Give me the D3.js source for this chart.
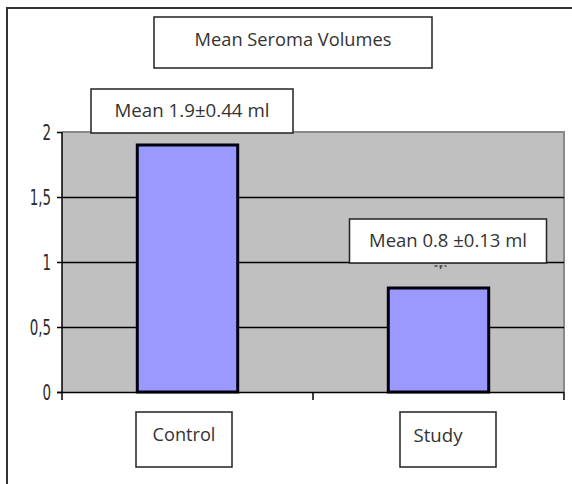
<!DOCTYPE html>
<html>
<head>
<meta charset="utf-8">
<script src="https://cdn.jsdelivr.net/npm/d3@7/dist/d3.min.js"></script>
<style>
  html, body { margin: 0; padding: 0; background: #fff; }
  svg { display: block; }
</style>
</head>
<body>
<svg id="chart" width="572" height="484"></svg>
<script>
// ---- data ----
const categories = ["Control", "Study"];
const means = [1.9, 0.8];
const annotations = ["Mean 1.9\u00b10.44 ml", "Mean 0.8 \u00b10.13 ml"];
const title = "Mean Seroma Volumes";
const yTicks = [0, 0.5, 1, 1.5, 2];
const yTickLabels = ["0", "0,5", "1", "1,5", "2"];
const errorCapTop = [null, 0.97];   // Control's cap is hidden behind its label box

// ---- layout ----
const W = 572, H = 484;
const plot = { left: 62, right: 564, top: 132, bottom: 392 };
const boxFont = "'Open Sans', 'Noto Sans', sans-serif";

const svg = d3.select("#chart");

// outer frame
svg.append("rect")
  .attr("x", 7).attr("y", 8).attr("width", 600).attr("height", 520)
  .attr("fill", "#fff").attr("stroke", "#333").attr("stroke-width", 2);

const x = d3.scaleBand().domain(categories)
  .range([plot.left, plot.right]).paddingInner(0.6).paddingOuter(0.3);
const y = d3.scaleLinear().domain([0, 2]).range([plot.bottom, plot.top]);
const xSlots = d3.scaleBand().domain(categories).range([plot.left, plot.right]);

// plot background
svg.append("rect")
  .attr("x", plot.left).attr("y", plot.top)
  .attr("width", plot.right - plot.left).attr("height", plot.bottom - plot.top)
  .attr("fill", "#c0c0c0");
svg.append("path")
  .attr("d", `M${plot.left},${plot.top}H${plot.right}V${plot.bottom}`)
  .attr("fill", "none").attr("stroke", "#8a8a8a").attr("stroke-width", 2);

// gridlines
svg.append("g").selectAll("line")
  .data(yTicks.filter(t => t > 0 && t < 2))
  .join("line")
  .attr("x1", plot.left).attr("x2", plot.right)
  .attr("y1", d => Math.round(y(d)) + 0.5).attr("y2", d => Math.round(y(d)) + 0.5)
  .attr("stroke", "#000").attr("stroke-width", 1.5);

// bars
svg.append("g").selectAll("rect")
  .data(categories)
  .join("rect")
  .attr("x", d => x(d))
  .attr("y", (d, i) => y(means[i]))
  .attr("width", x.bandwidth())
  .attr("height", (d, i) => y(0) - y(means[i]))
  .attr("fill", "#9999ff")
  .attr("stroke", "#000010").attr("stroke-width", 3);

// y axis
const yAxis = d3.axisLeft(y).tickValues(yTicks)
  .tickFormat((d, i) => yTickLabels[i]).tickSize(5).tickPadding(6);
const gy = svg.append("g").attr("transform", `translate(${plot.left},0)`).call(yAxis);
gy.select(".domain").attr("d", `M0,${plot.top}V${plot.bottom + 8}`).attr("stroke", "#000").attr("stroke-width", 1.5);
gy.selectAll(".tick line").attr("stroke", "#000").attr("stroke-width", 1.5);
const sx = 0.64;
gy.selectAll(".tick text")
  .attr("font-family", "'DejaVu Sans', sans-serif")
  .attr("font-size", 21).attr("fill", "#2a2a2a").attr("dy", "0.36em")
  .attr("x", -11 / sx)
  .attr("transform", `scale(${sx},1)`);

// x axis (ticks at slot boundaries)
svg.append("line")
  .attr("x1", plot.left - 5).attr("x2", plot.right)
  .attr("y1", plot.bottom + 0.5).attr("y2", plot.bottom + 0.5)
  .attr("stroke", "#000").attr("stroke-width", 1.5);
const boundaries = categories.map(c => xSlots(c)).concat([xSlots(categories[categories.length - 1]) + xSlots.bandwidth()]);
svg.append("g").selectAll("line")
  .data(boundaries.slice(1))
  .join("line")
  .attr("x1", d => d).attr("x2", d => d)
  .attr("y1", plot.bottom).attr("y2", plot.bottom + 8)
  .attr("stroke", "#000").attr("stroke-width", 1.5);

// small error cap marks
svg.append("g").selectAll("path")
  .data(categories.filter((d, i) => errorCapTop[i] != null))
  .join("path")
  .attr("d", d => {
    const i = categories.indexOf(d);
    const cx = x(d) + x.bandwidth() / 2 + 2;
    const cy = y(errorCapTop[i]);
    return `M${cx - 6},${cy}H${cx + 6}M${cx},${cy}V${cy + 5}`;
  })
  .attr("stroke", "#444").attr("stroke-width", 1.5).attr("stroke-dasharray", "3,2");

// text box helper
function textBox(cx, top, w, h, txt, targetW, textDy) {
  svg.append("rect")
    .attr("x", cx - w / 2).attr("y", top).attr("width", w).attr("height", h)
    .attr("fill", "#fff").attr("stroke", "#222").attr("stroke-width", 1.5);
  const t = svg.append("text")
    .attr("x", cx).attr("y", top + h / 2 + (textDy || 0))
    .attr("text-anchor", "middle").attr("dominant-baseline", "central")
    .attr("font-family", boxFont).attr("font-size", 16).attr("fill", "#333")
    .text(txt);
  const len = t.node().getComputedTextLength();
  t.attr("font-size", 16 * targetW / len);
}

// title
textBox(293, 17, 278, 51, title, 197, -4);

// annotation boxes (positioned from the bars)
const annLayout = [
  { dx: 4.5, w: 202, h: 44, bottomVal: 2.0, tw: 155, dy: -2 },
  { dx: 9.5, w: 197, h: 44, bottomVal: 1.0, tw: 158, dy: -2 }
];
categories.forEach((c, i) => {
  const L = annLayout[i];
  const cx = x(c) + x.bandwidth() / 2 + L.dx;
  const bottom = y(L.bottomVal) + 1;
  textBox(cx, bottom - L.h, L.w, L.h, annotations[i], L.tw, L.dy);
});

// category label boxes
const catLayout = [{ dx: -3.5, tw: 63, tdx: 0 }, { dx: 9.5, tw: 49, tdx: -10 }];
categories.forEach((c, i) => {
  const L = catLayout[i];
  const cx = x(c) + x.bandwidth() / 2 + L.dx;
  svg.append("rect")
    .attr("x", cx - 48).attr("y", 412).attr("width", 96).attr("height", 55)
    .attr("fill", "#fff").attr("stroke", "#222").attr("stroke-width", 1.5);
  const t = svg.append("text")
    .attr("x", cx + L.tdx).attr("y", 434)
    .attr("text-anchor", "middle").attr("dominant-baseline", "central")
    .attr("font-family", boxFont).attr("font-size", 15).attr("fill", "#333")
    .text(c);
  const len = t.node().getComputedTextLength();
  t.attr("font-size", 15 * L.tw / len);
});
</script>
</body>
</html>
